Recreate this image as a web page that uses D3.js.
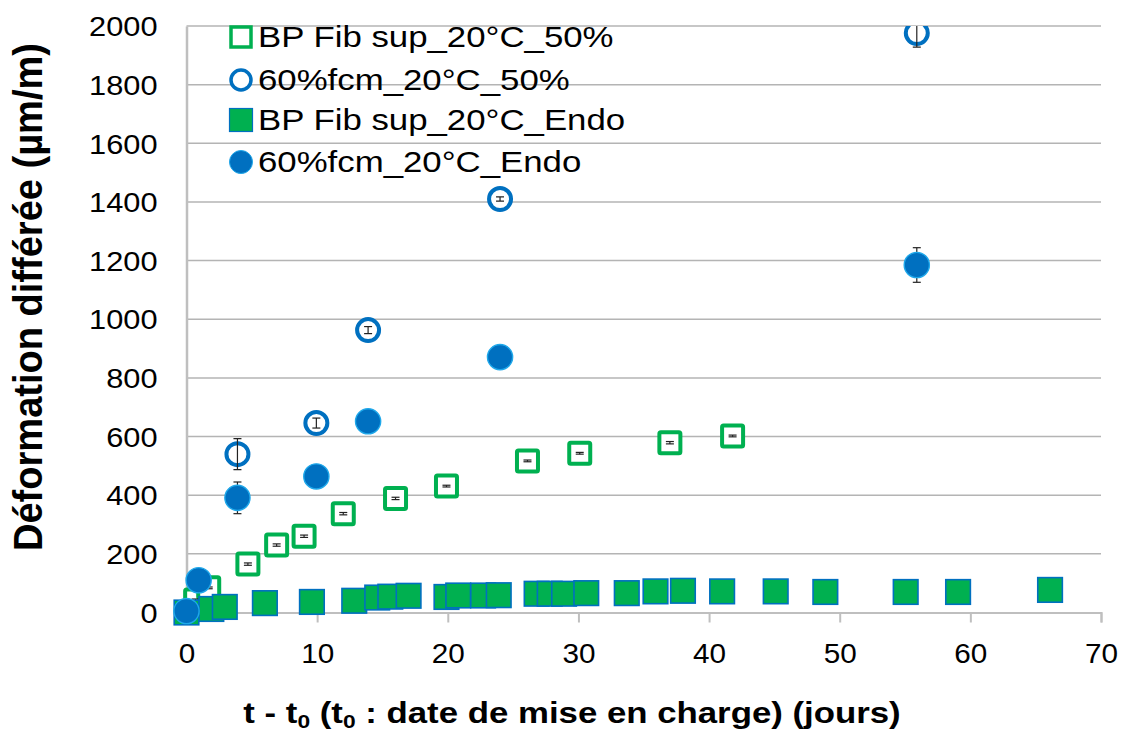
<!DOCTYPE html>
<html><head><meta charset="utf-8">
<script src="https://cdn.jsdelivr.net/npm/d3@7"></script>
<style>body{margin:0;background:#fff}svg{display:block}text{font-family:"Liberation Sans",Arial,sans-serif}</style>
</head><body><svg id="c" width="1122" height="733"></svg>
<script>
// ---- data ----
const xTicks = [0,10,20,30,40,50,60,70];
const yTicks = [0,200,400,600,800,1000,1200,1400,1600,1800,2000];
const seriesNames = ["BP Fib sup_20°C_50%","60%fcm_20°C_50%","BP Fib sup_20°C_Endo","60%fcm_20°C_Endo"];

const openSqX   = [0.7, 1.7, 4.7, 6.9, 9.0, 12.0, 16.0, 19.9, 26.1, 30.1, 37.0, 41.8];
const openSqY   = [43, 84, 165, 230, 260, 337, 389, 431, 517, 543, 579, 602];
const openSqErr = [3, 3, 4, 4, 4, 4, 4, 3, 3, 3, 4, 3];

const openCircX   = [3.9, 9.94, 13.9, 24.0, 55.9];
const openCircY   = [540, 646, 963, 1410, 1976];
const openCircErr = [53, 17, 12, 7, 48];

const fillSqX = [0, 1.9, 2.93, 6.0, 9.6, 12.84, 14.6, 15.6, 17.0, 19.9, 20.8, 22.7, 23.9, 26.8, 27.8, 28.9, 30.6, 33.7, 35.9, 38.0, 41.0, 45.1, 48.9, 55.05, 59.06, 66.1];
const fillSqY = [0, 12, 19, 32, 36, 40, 51, 54, 57, 53, 58, 58, 59, 64, 64, 64, 66, 66, 72, 74, 72, 72, 70, 70, 70, 77];

const fillCircX   = [0, 0.93, 3.9, 9.94, 13.9, 24.0, 55.9];
const fillCircY   = [5, 110, 391, 464, 652, 871, 1185];
const fillCircErr = [0, 5, 54, 5, 5, 5, 59];

// ---- layout ----
const svg = d3.select("#c");
const L = 186.5, R = 1101, T = 26, B = 612.5;
const SX = 1.2; // horizontal text stretch seen in the reference
const x = d3.scaleLinear().domain([0,70]).range([L,R]);
const y = d3.scaleLinear().domain([0,2000]).range([B,T]);
const GREEN = "#00B050", BLUE = "#0070C0", LBLUE = "#1FA8EA";

svg.append("defs").append("clipPath").attr("id","pc")
  .append("rect").attr("x",L).attr("y",T).attr("width",R-L).attr("height",B-T);

// gridlines
svg.append("g").selectAll("line").data(yTicks.filter(d=>d>0)).join("line")
  .attr("x1",L).attr("x2",R).attr("y1",d=>y(d)).attr("y2",d=>y(d))
  .attr("stroke","#b4b4b4").attr("stroke-width",1.5);

// axes
const xAxis = d3.axisBottom(x).tickValues(xTicks).tickSize(10).tickFormat(d3.format("d"));
const gx = svg.append("g").attr("transform",`translate(0,${B})`).call(xAxis);
gx.select(".domain").attr("stroke","#bfbfbf").attr("stroke-width",2);
gx.selectAll(".tick line").attr("stroke","#bfbfbf").attr("stroke-width",2);
gx.selectAll(".tick text").attr("font-size",27).attr("fill","#000").attr("dy",0).attr("y",0)
  .attr("transform","translate(0,50) scale(1.1,1)")
  .attr("font-family","Liberation Sans, Arial, sans-serif");

const yAxis = d3.axisLeft(y).tickValues(yTicks).tickSize(0).tickFormat(d3.format("d"));
const gy = svg.append("g").attr("transform",`translate(${L},0)`).call(yAxis);
gy.select(".domain").attr("stroke","#bfbfbf").attr("stroke-width",2.5);
gy.selectAll(".tick text").attr("font-size",27).attr("fill","#000").attr("dy","0.36em").attr("x",0)
  .attr("transform","translate(-29,0) scale(1.14,1)")
  .attr("font-family","Liberation Sans, Arial, sans-serif");

const plot = svg.append("g").attr("clip-path","url(#pc)");
const plotNC = svg.append("g");

function errBars(g, xs, ys, es, cap) {
  const d = xs.map((v,i)=>({x:v,y:ys[i],e:es[i]})).filter(p=>p.e>0);
  const eg = g.append("g").attr("stroke","#222").attr("stroke-width",1.2);
  eg.selectAll(".v").data(d).join("line").attr("x1",p=>x(p.x)).attr("x2",p=>x(p.x))
    .attr("y1",p=>y(p.y-p.e)).attr("y2",p=>y(p.y+p.e));
  eg.selectAll(".t").data(d).join("line").attr("x1",p=>x(p.x)-cap).attr("x2",p=>x(p.x)+cap)
    .attr("y1",p=>y(p.y+p.e)).attr("y2",p=>y(p.y+p.e));
  eg.selectAll(".b").data(d).join("line").attr("x1",p=>x(p.x)-cap).attr("x2",p=>x(p.x)+cap)
    .attr("y1",p=>y(p.y-p.e)).attr("y2",p=>y(p.y-p.e));
}

// series 1: open green squares
const s1 = plotNC.append("g");
s1.selectAll("rect").data(openSqX.map((v,i)=>[v,openSqY[i]])).join("rect")
  .attr("x",d=>x(d[0])-10.5).attr("y",d=>y(d[1])-10.5).attr("width",21).attr("height",21)
  .attr("fill","#fff").attr("stroke",GREEN).attr("stroke-width",4).attr("rx",1.5);
errBars(s1, openSqX, openSqY, openSqErr, 4);

// series 2: open blue circles
const s2 = plot.append("g");
s2.selectAll("circle").data(openCircX.map((v,i)=>[v,openCircY[i]])).join("circle")
  .attr("cx",d=>x(d[0])).attr("cy",d=>y(d[1])).attr("r",11)
  .attr("fill","#fff").attr("stroke",BLUE).attr("stroke-width",4);
errBars(s2, openCircX, openCircY, openCircErr, 4);

// series 3: filled green squares
const s3 = plotNC.append("g");
s3.selectAll("rect").data(fillSqX.map((v,i)=>[v,fillSqY[i]])).join("rect")
  .attr("x",d=>x(d[0])-12.3).attr("y",d=>y(d[1])-12.3).attr("width",24.6).attr("height",24.6)
  .attr("fill",GREEN).attr("stroke",BLUE).attr("stroke-width",1.6);

// series 4: filled blue circles (error bars behind)
const s4 = plotNC.append("g");
errBars(s4, fillCircX, fillCircY, fillCircErr, 4);
s4.selectAll("circle").data(fillCircX.map((v,i)=>[v,fillCircY[i]])).join("circle")
  .attr("cx",d=>x(d[0])).attr("cy",d=>y(d[1])).attr("r",12.6)
  .attr("fill",BLUE).attr("stroke",LBLUE).attr("stroke-width",1.4);

// legend
const lg = svg.append("g");
const rowsY = [37, 80, 120, 162];
const mx = 241;
lg.append("rect").attr("x",mx-10).attr("y",rowsY[0]-10).attr("width",20).attr("height",20)
  .attr("fill","#fff").attr("stroke",GREEN).attr("stroke-width",3.5);
lg.append("circle").attr("cx",mx).attr("cy",rowsY[1]).attr("r",10)
  .attr("fill","#fff").attr("stroke",BLUE).attr("stroke-width",3.5);
lg.append("rect").attr("x",mx-11.5).attr("y",rowsY[2]-11.5).attr("width",23).attr("height",23)
  .attr("fill",GREEN).attr("stroke",BLUE).attr("stroke-width",1.2);
lg.append("circle").attr("cx",mx).attr("cy",rowsY[3]).attr("r",11.5)
  .attr("fill",BLUE).attr("stroke",LBLUE).attr("stroke-width",1);
lg.selectAll("text").data(seriesNames).join("text")
  .attr("transform",(d,i)=>`translate(258,${rowsY[i]}) scale(${SX},1)`).attr("dy","0.36em")
  .attr("font-size",29).attr("fill","#000").text(d=>d);

// axis titles
svg.append("text").attr("transform","translate(42,297) scale(1.1,1) rotate(-90)")
  .attr("text-anchor","middle").attr("font-size",37).attr("font-weight","bold")
  .attr("textLength",508).attr("lengthAdjust","spacingAndGlyphs")
  .text("Déformation différée (µm/m)");

const xt = svg.append("text").attr("transform",`translate(572,723) scale(${SX},1)`)
  .attr("text-anchor","middle").attr("font-size",29).attr("font-weight","bold");
xt.append("tspan").text("t - t");
xt.append("tspan").attr("font-size",19).attr("dy",5).text("0");
xt.append("tspan").attr("dy",-5).text(" (t");
xt.append("tspan").attr("font-size",19).attr("dy",5).text("0");
xt.append("tspan").attr("dy",-5).text(" : date de mise en charge) (jours)");
</script></body></html>
